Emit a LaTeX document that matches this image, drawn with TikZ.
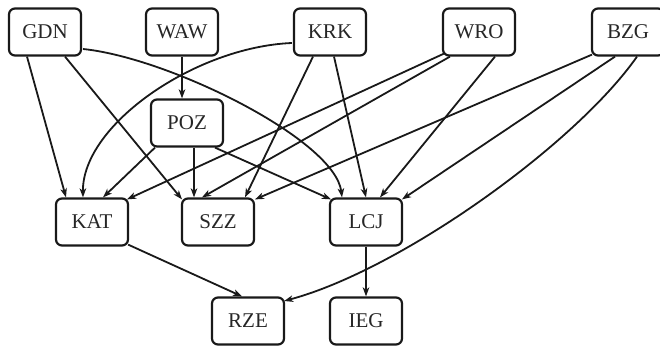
\documentclass[tikz,border=0pt]{standalone}
\usepackage{fontspec}
\setmainfont{Liberation Serif}
\usetikzlibrary{arrows.meta}
\begin{document}
\begin{tikzpicture}[x=1pt,y=-1pt,
  box/.style={draw=black!90,line width=2.2pt,rounded corners=6pt,minimum width=72pt,minimum height=47pt,inner sep=0pt,font=\fontsize{21}{21}\selectfont,text=black!85},
  edge/.style={draw=black!90,line width=1.8pt,-{Stealth[length=9pt,width=6.5pt,inset=2.5pt]}}]
\useasboundingbox (0,0) rectangle (660,347);
\begin{scope}
\clip (0,0) rectangle (660,347);
\node[box] (GDN) at (45,32) {GDN};
\node[box] (WAW) at (182,32) {WAW};
\node[box] (KRK) at (330,32) {KRK};
\node[box] (WRO) at (479,32) {WRO};
\node[box] (BZG) at (628,32) {BZG};
\node[box] (POZ) at (187,123) {POZ};
\node[box] (KAT) at (92,222) {KAT};
\node[box] (SZZ) at (218,222) {SZZ};
\node[box] (LCJ) at (366,222) {LCJ};
\node[box] (RZE) at (248,321) {RZE};
\node[box] (IEG) at (366,321) {IEG};

\draw[edge] ([xshift=-18]GDN.south) -- ([xshift=-26]KAT.north);
\draw[edge] ([xshift=20]GDN.south) -- ([xshift=-36,yshift=-2]SZZ.north);
\draw[edge] ([xshift=1,yshift=-17]GDN.east) .. controls (170,58) and (335,140) .. ([xshift=-24]LCJ.north);
\draw[edge] (WAW.south) -- ([xshift=-5]POZ.north);
\draw[edge] ([xshift=-1,yshift=-11]KRK.west) .. controls (195,47) and (82,125) .. ([xshift=-9]KAT.north);
\draw[edge] ([xshift=-17]KRK.south) -- ([xshift=27]SZZ.north);
\draw[edge] ([xshift=4]KRK.south) -- (LCJ.north);
\draw[edge] ([xshift=-32]POZ.south) -- ([xshift=11]KAT.north);
\draw[edge] ([xshift=7]POZ.south) -- ([xshift=-24]SZZ.north);
\draw[edge] ([xshift=28]POZ.south) -- ([xshift=-35,yshift=-2]LCJ.north);
\draw[edge] ([xshift=-35,yshift=3]WRO.south) -- ([xshift=35,yshift=-2]KAT.north);
\draw[edge] ([xshift=-29]WRO.south) -- ([xshift=-16]SZZ.north);
\draw[edge] ([xshift=16]WRO.south) -- ([xshift=14]LCJ.north);
\draw[edge] ([xshift=-36,yshift=2]BZG.south) -- ([xshift=37,yshift=-2]SZZ.north);
\draw[edge] ([xshift=-13]BZG.south) -- ([xshift=36,yshift=-2]LCJ.north);
\draw[edge] ([xshift=9]BZG.south) .. controls (575,145) and (400,270) .. ([xshift=-1,yshift=20]RZE.east);
\draw[edge] ([xshift=-1,yshift=2]KAT.south east) -- ([xshift=-6]RZE.north);
\draw[edge] (LCJ.south) -- (IEG.north);
\end{scope}
\end{tikzpicture}
\end{document}
